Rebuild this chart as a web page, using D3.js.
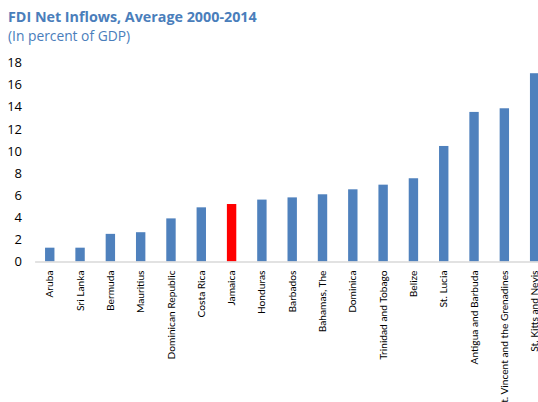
<!DOCTYPE html>
<html><head><meta charset="utf-8">
<script src="https://cdn.jsdelivr.net/npm/d3@7"></script>
<style>
body{margin:0;background:#fff;overflow:hidden}
svg{display:block}
</style></head>
<body>
<script>
const categories = ["Aruba","Sri Lanka","Bermuda","Mauritius","Dominican Republic","Costa Rica","Jamaica","Honduras","Barbados","Bahamas, The","Dominica","Trinidad and Tobago","Belize","St. Lucia","Antigua and Barbuda","St. Vincent and the Grenadines","St. Kitts and Nevis"];
const values = [1.25,1.25,2.5,2.65,3.9,4.9,5.2,5.6,5.8,6.08,6.53,6.95,7.53,10.45,13.53,13.86,17.03];
const highlight = ["Jamaica"];
const yTicks = [0,2,4,6,8,10,12,14,16,18];
const title = "FDI Net Inflows, Average 2000-2014";
const subtitle = "(In percent of GDP)";

const W = 538, H = 402;
const svg = d3.select("body").append("svg").attr("width", W).attr("height", H);
const font = "'Open Sans', 'Noto Sans', sans-serif";

svg.append("text").attr("x", 8).attr("y", 22).text(title)
  .attr("font-family", font).attr("font-weight", "bold").attr("font-size", 14.3)
  .attr("fill", "#4a7ebb");
svg.append("text").attr("x", 8).attr("y", 40.5).text(subtitle)
  .attr("font-family", font).attr("font-size", 13.8).attr("fill", "#4a7ebb");

const x = d3.scaleBand().domain(categories).range([34.6, 549.8]).paddingInner(0.69).paddingOuter(0.345);
const y = d3.scaleLinear().domain([0, 18]).range([261.5, 62.5]);

// y axis labels
const ya = svg.append("g").attr("transform", "translate(22,0)")
  .call(d3.axisLeft(y).tickValues(yTicks).tickSize(0).tickPadding(0));
ya.select(".domain").remove();
ya.selectAll("text").attr("font-family", font).attr("font-size", 13).attr("fill", "#000");

// bars
svg.append("g").selectAll("rect").data(categories).join("rect")
  .attr("x", d => x(d)).attr("width", x.bandwidth())
  .attr("y", (d,i) => y(values[i])).attr("height", (d,i) => y(0) - y(values[i]))
  .attr("fill", d => highlight.includes(d) ? "#ff0000" : "#4f81bd");

// x axis
const xa = svg.append("g").attr("transform", `translate(0,${y(0)})`)
  .call(d3.axisBottom(x).tickSize(0).tickPadding(0));
xa.select(".domain").attr("stroke", "#d9d9d9").attr("stroke-width", 1.5);
xa.selectAll("text")
  .attr("font-family", "Lato, 'Open Sans', sans-serif").attr("font-size", 10.2).attr("fill", "#000")
  .attr("transform", "rotate(-90)").attr("text-anchor", "end")
  .attr("x", -9).attr("y", 0).attr("dy", "0.35em");
</script>
</body></html>
